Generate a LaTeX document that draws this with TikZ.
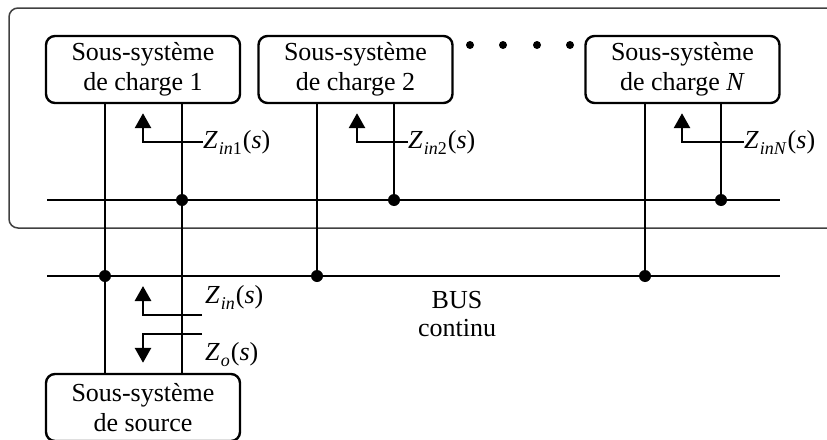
\documentclass[tikz,border=0pt]{standalone}
\usepackage{fontspec}
\setmainfont{Liberation Serif}
\usetikzlibrary{arrows.meta}
\newcommand{\Zlab}[1]{\textit{Z}\kern1pt\raisebox{-0.5ex}{\fontsize{18}{18}\selectfont #1}\kern1pt(\textit{s})}
\tikzset{
  sysbox/.style={draw, line width=2.4pt, rounded corners=9pt, minimum width=194pt, minimum height=67pt, align=center, inner sep=0pt, font=\fontsize{26}{30}\selectfont},
  wire/.style={line width=2.8pt},
  zarrow/.style={line width=2.8pt, -{Triangle[width=16pt,length=15pt]}},
  jdot/.style={circle, fill, inner sep=0pt, minimum size=12pt},
  edot/.style={circle, fill, inner sep=0pt, minimum size=8pt},
  zlab/.style={anchor=west, inner sep=0pt, font=\fontsize{26}{28}\selectfont},
  bustext/.style={align=center, inner sep=0pt, font=\fontsize{26}{28}\selectfont}
}
\begin{document}
\begin{tikzpicture}[x=1pt,y=-1pt]
\useasboundingbox (0,0) rectangle (827,439);
\clip (0,0) rectangle (827,439);
% frame
\draw[line width=1.5pt, black!75, rounded corners=9pt] (9,8) rectangle (850,228);
% boxes
\node[sysbox] (b1) at (143,69.5) {Sous-système\\de charge 1};
\node[sysbox] (b2) at (355.5,69.5) {Sous-système\\de charge 2};
\node[sysbox] (bN) at (682.5,69.5) {Sous-système\\de charge \textit{N}};
\node[sysbox] (src) at (143,407.5) {Sous-système\\de source};
% ellipsis dots
\node[edot] (e1) at (470,45) {};
\node[edot] (e2) at (503,45) {};
\node[edot] (e3) at (537,45) {};
\node[edot] (e4) at (570,45) {};
% bus ends
\coordinate (ia) at (47,200);
\coordinate (ib) at (780,200);
\coordinate (la) at (47,276);
\coordinate (lb) at (780,276);
\draw[wire] (ia) -- (ib);
\draw[wire] (la) -- (lb);
% junctions
\node[jdot] (j1) at (182,200) {};
\node[jdot] (j2) at (394,200) {};
\node[jdot] (jN) at (721,200) {};
\node[jdot] (k1) at (105,276) {};
\node[jdot] (k2) at (317,276) {};
\node[jdot] (kN) at (645,276) {};
% vertical wires
\draw[wire] (b1.south -| k1) -- (k1.center) -- (src.north -| k1);
\draw[wire] (b1.south -| j1) -- (j1.center) -- (src.north -| j1);
\draw[wire] (b2.south -| k2) -- (k2.center);
\draw[wire] (b2.south -| j2) -- (j2.center);
\draw[wire] (bN.south -| kN) -- (kN.center);
\draw[wire] (bN.south -| jN) -- (jN.center);
% impedance labels
\node[zlab] (z1) at (203,142) {\Zlab{\textit{in}1}};
\node[zlab] (z2) at (408,142) {\Zlab{\textit{in}2}};
\node[zlab] (zN) at (744,142) {\Zlab{\textit{inN}}};
\node[zlab] (zi) at (205,297) {\Zlab{\textit{in}}};
\node[zlab] (zo) at (205,355) {\Zlab{\textit{o}}};
\coordinate (c1) at (143,142);
\coordinate (c2) at (357,142);
\coordinate (cN) at (682,142);
\coordinate (ci) at (143,315);
\coordinate (co) at (143,334);
\coordinate (hi) at (202,315);
\coordinate (ho) at (202,334);
\draw[zarrow] (z1.west) -- (c1) -- ([yshift=-9pt]b1.south -| c1);
\draw[zarrow] (z2.west) -- (c2) -- ([yshift=-9pt]b2.south -| c2);
\draw[zarrow] (zN.west) -- (cN) -- ([yshift=-9pt]bN.south -| cN);
\draw[zarrow] (hi) -- (ci) -- ([yshift=-10pt]la -| ci);
\draw[zarrow] (ho) -- (co) -- ([yshift=10pt]src.north -| co);
% bus label
\node[bustext] (bus) at (457,314) {BUS\\continu};
\end{tikzpicture}
\end{document}
